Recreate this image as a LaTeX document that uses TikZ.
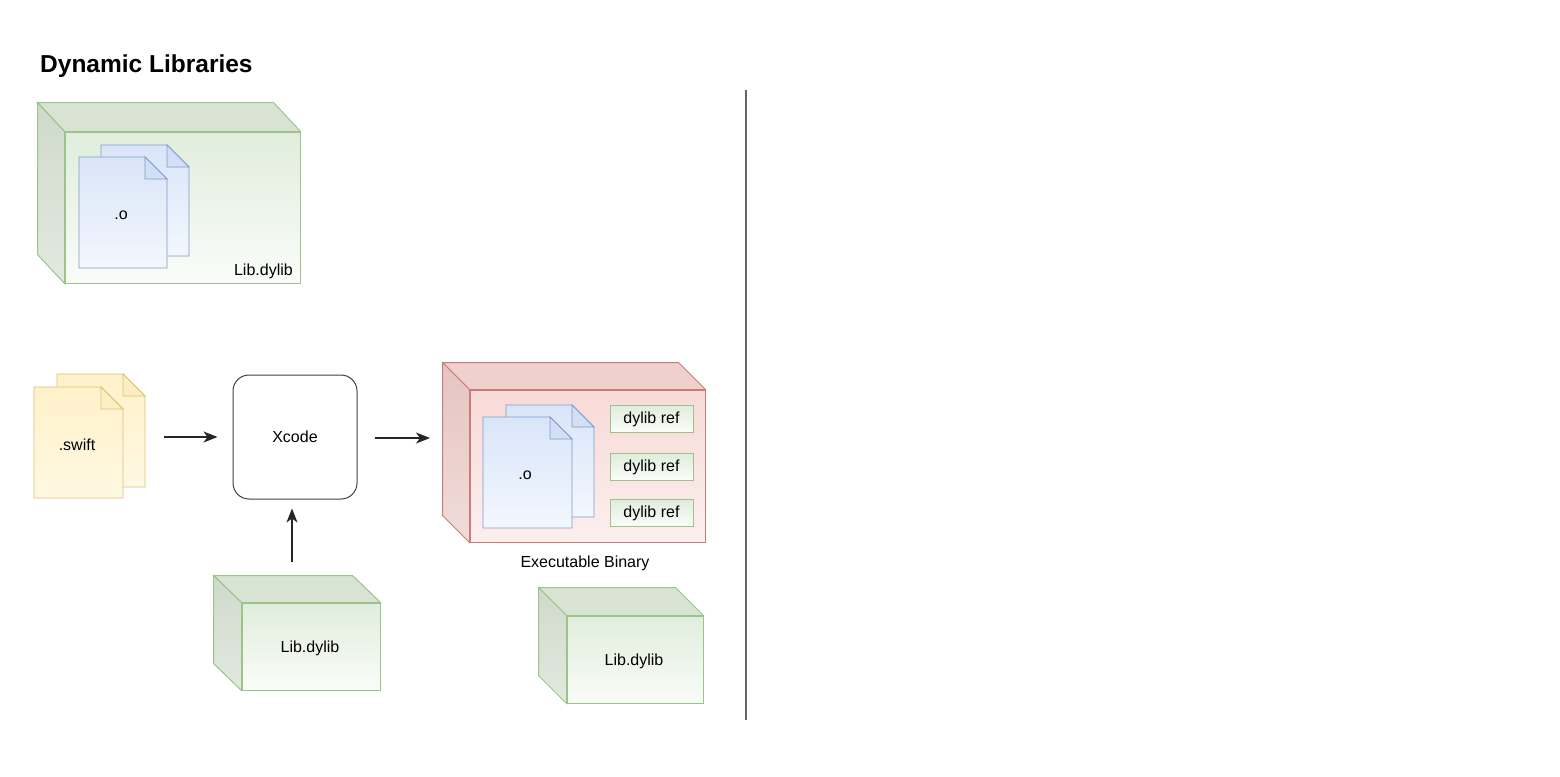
\documentclass[tikz,border=0pt]{standalone}
\usepackage{fontspec}
\setmainfont{Liberation Sans}
\usetikzlibrary{arrows.meta,calc}
\definecolor{gstroke}{HTML}{9CC388}
\definecolor{gtop}{HTML}{E0EDDC}
\definecolor{gbot}{HTML}{FAFCF9}
\definecolor{gtopface}{HTML}{D8E3D4}
\definecolor{gsidetop}{HTML}{CFDACB}
\definecolor{gsidebot}{HTML}{E2E9E0}
\definecolor{rstroke}{HTML}{C77E79}
\definecolor{rtop}{HTML}{F7DAD7}
\definecolor{rbot}{HTML}{FCEFEE}
\definecolor{rtopface}{HTML}{EFD0CC}
\definecolor{rsidetop}{HTML}{E5C4C0}
\definecolor{rsidebot}{HTML}{F1DCDA}
\definecolor{bstroke}{HTML}{7E9CCB}
\definecolor{btop}{HTML}{D9E5F8}
\definecolor{bbot}{HTML}{F3F7FE}
\definecolor{ystroke}{HTML}{DCC274}
\definecolor{ytop}{HTML}{FFF1CA}
\definecolor{ybot}{HTML}{FFF8E2}
\newcommand\cubesides[5]{%
  \path[#4] (#1.north west) -- ++(-#2,-#3) -- ($(#1.north east)+(-#2,-#3)$) -- (#1.north east) -- cycle;
  \path[#5] (#1.north west) -- ++(-#2,-#3) -- ($(#1.south west)+(-#2,-#3)$) -- (#1.south west) -- cycle;
}
\newcommand\docshape[6]{%
  \path[#5] (#1,#2) -- (#3-22,#2) -- (#3,#2+22) -- (#3,#4) -- (#1,#4) -- cycle;
  \path[#6] (#3-22,#2) -- (#3-22,#2+22) -- (#3,#2+22) -- cycle;
}
\tikzset{
  lbl/.style={font=\fontsize{16}{19}\selectfont, text=black, inner sep=0pt},
  gfront/.style={draw=gstroke, line width=1pt, top color=gtop, bottom color=gbot, inner sep=0pt},
  gtopf/.style={draw=gstroke, line width=1pt, fill=gtopface},
  gside/.style={draw=gstroke, line width=1pt, top color=gsidetop, bottom color=gsidebot},
  rfront/.style={draw=rstroke, line width=1pt, top color=rtop, bottom color=rbot, inner sep=0pt},
  rtopf/.style={draw=rstroke, line width=1pt, fill=rtopface},
  rside/.style={draw=rstroke, line width=1pt, top color=rsidetop, bottom color=rsidebot},
  bdoc/.style={draw=bstroke, line width=0.9pt, top color=btop, bottom color=bbot},
  bfold/.style={draw=bstroke, line width=0.9pt, fill=btop!92!bstroke},
  ydoc/.style={draw=ystroke, line width=0.9pt, top color=ytop, bottom color=ybot},
  yfold/.style={draw=ystroke, line width=0.9pt, fill=ytop!92!ystroke},
  refbox/.style={draw=gstroke, line width=1pt, top color=gtop, bottom color=gbot,
    minimum width=83pt, minimum height=27pt, lbl},
  arr/.style={draw=black!85, line width=1.2pt, -{Stealth[length=14pt,width=11pt,inset=4pt]}},
}
\begin{document}
\begin{tikzpicture}[x=1pt,y=-1pt]
\useasboundingbox[fill=white] (0,0) rectangle (1560,776);

% title
\node[anchor=base west, inner sep=0pt, font=\bfseries\fontsize{24.5}{28}\selectfont] (title) at (40,72) {Dynamic Libraries};

% top library cube
\node[gfront, minimum width=235pt, minimum height=151pt] (lib1) at (182.5,207.5) {};
\cubesides{lib1}{27}{29}{gtopf}{gside}
\docshape{101}{145}{189}{256}{bdoc}{bfold}
\docshape{79}{157}{167}{268}{bdoc}{bfold}
\node[lbl] (obj1) at (121,215) {.o};
\node[lbl, anchor=base east] (lib1lbl) at (293,275) {Lib.dylib};

% swift files
\docshape{57}{374}{145}{487}{ydoc}{yfold}
\docshape{34}{387}{123}{498}{ydoc}{yfold}
\node[lbl] (swiftlbl) at (77,445) {.swift};
\node[minimum width=111pt, minimum height=124pt, inner sep=0pt] (swift) at (89.5,437) {};

% Xcode
\node[draw=black!75, line width=1pt, rounded corners=16pt, fill=white,
      minimum width=124pt, minimum height=124pt, lbl] (xcode) at (295,437) {Xcode};

% executable binary
\node[rfront, minimum width=235pt, minimum height=152pt] (exe) at (587.5,466) {};
\cubesides{exe}{27}{27}{rtopf}{rside}
\docshape{506}{405}{594}{517}{bdoc}{bfold}
\docshape{483}{417}{572}{528}{bdoc}{bfold}
\node[lbl] (obj2) at (525,475) {.o};
\node[refbox] (ref1) at (651.5,419) {dylib ref};
\node[refbox] (ref2) at (651.5,467) {dylib ref};
\node[refbox] (ref3) at (651.5,513) {dylib ref};
\node[lbl] (exelbl) at (585,563) {Executable Binary};

% bottom libraries
\node[gfront, minimum width=138pt, minimum height=87pt] (lib2) at (311,646.5) {};
\cubesides{lib2}{28}{27}{gtopf}{gside}
\node[lbl] (lib2lbl) at (310,648) {Lib.dylib};

\node[gfront, minimum width=136pt, minimum height=87pt] (lib3) at (635,659.5) {};
\cubesides{lib3}{28}{28}{gtopf}{gside}
\node[lbl] (lib3lbl) at (634,661) {Lib.dylib};

% connectors
\coordinate (exein) at (430,438);
\coordinate (lib2out) at (292,562);
\draw[arr] ([xshift=19pt]swift.east) -- ([xshift=-15pt]xcode.west);
\draw[arr] ([xshift=17pt,yshift=-1pt]xcode.east) -- (exein);
\draw[arr] (lib2out) -- ([xshift=-3pt,yshift=-9pt]xcode.south);

% divider
\coordinate (divtop) at (746,90);
\coordinate (divbot) at (746,720);
\draw[black!60, line width=1.3pt] (divtop) -- (divbot);
\end{tikzpicture}
\end{document}
